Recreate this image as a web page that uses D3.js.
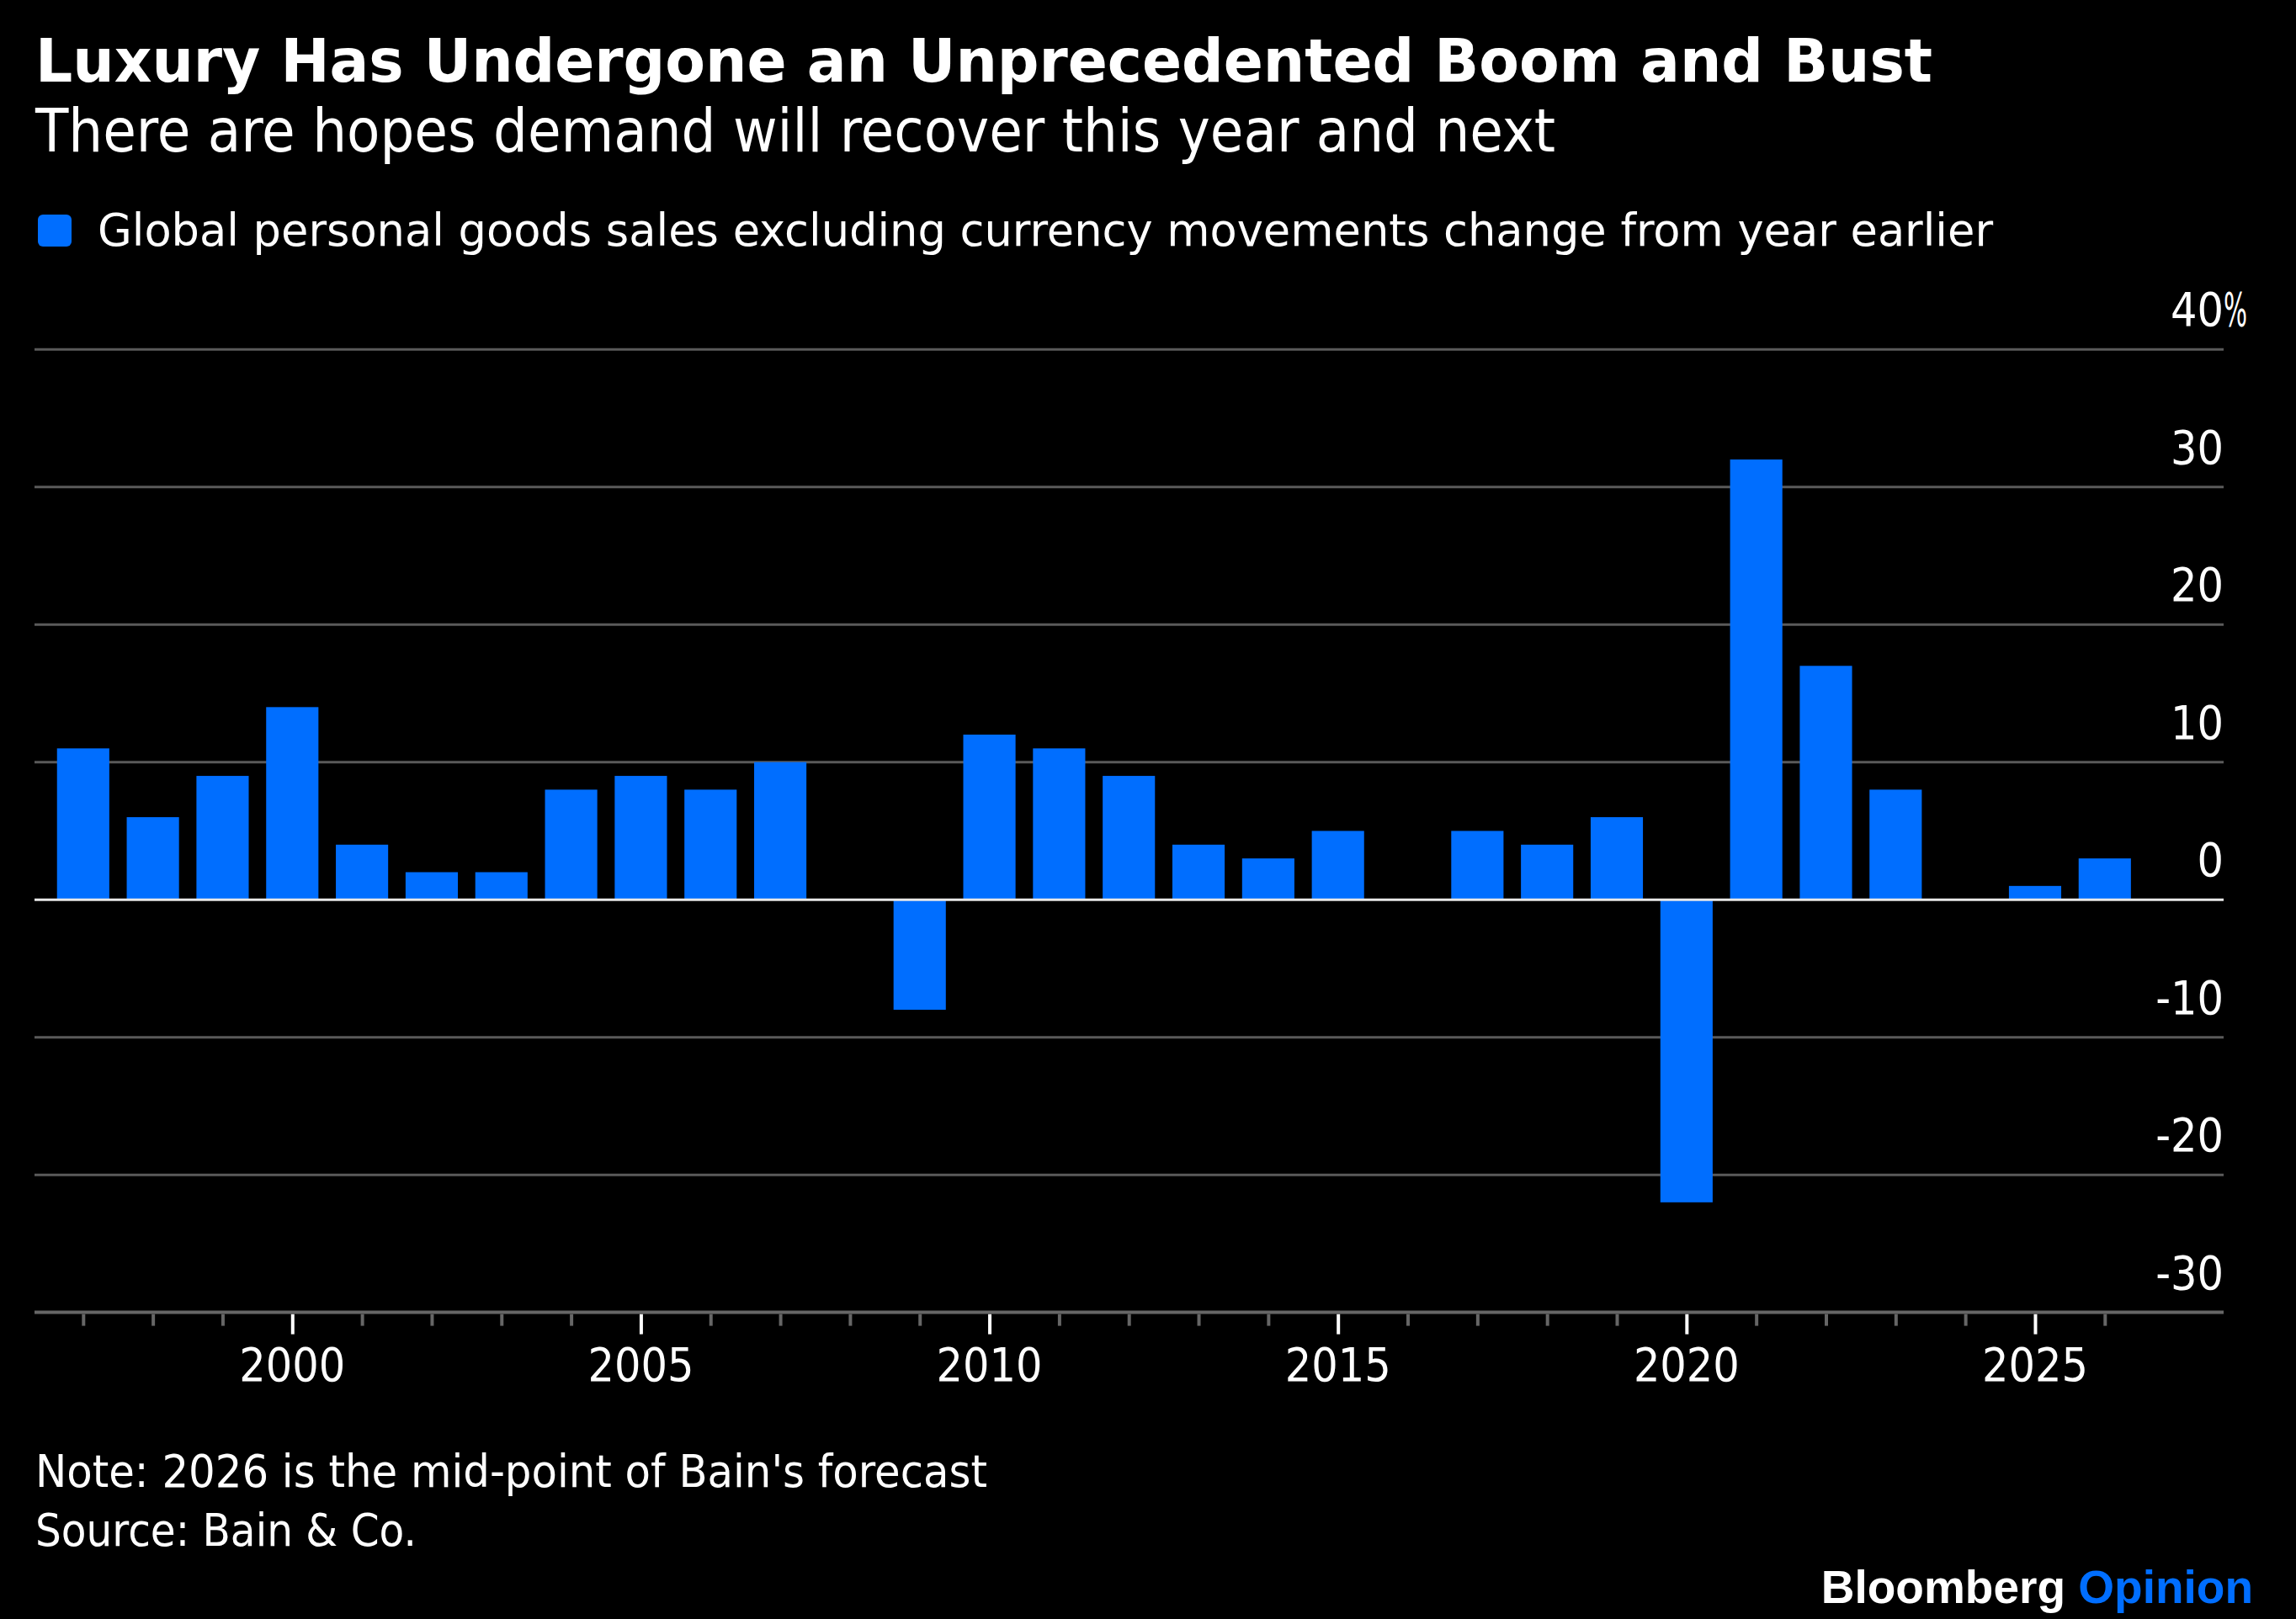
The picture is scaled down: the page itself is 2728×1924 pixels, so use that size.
<!DOCTYPE html>
<html>
<head>
<meta charset="utf-8">
<script src="https://cdn.jsdelivr.net/npm/d3@7"></script>
<style>
  html, body { margin: 0; padding: 0; background: #000; }
  svg { display: block; }
  text { font-family: 'DejaVu Sans Condensed', 'DejaVu Sans', sans-serif; font-stretch: condensed; fill: #fff; }
</style>
</head>
<body>
<div id="chart"></div>
<script>
// Global personal luxury goods sales, change from year earlier (%, constant FX)
const years = d3.range(1997, 2027);
const values = [11, 6, 9, 14, 4, 2, 2, 8, 9, 8, 10, 0, -8, 12, 11, 9, 4, 3, 5, 0, 5, 4, 6, -22, 32, 17, 8, 0, 1, 3];
const yTicks = [-30, -20, -10, 0, 10, 20, 30, 40];
const xLabelYears = [2000, 2005, 2010, 2015, 2020, 2025];

const title = 'Luxury Has Undergone an Unprecedented Boom and Bust';
const subtitle = 'There are hopes demand will recover this year and next';
const legendLabel = 'Global personal goods sales excluding currency movements change from year earlier';
const note = "Note: 2026 is the mid-point of Bain's forecast";
const source = 'Source: Bain & Co.';

const W = 2728, H = 1924;
const blue = '#006eff';

const svg = d3.select('#chart').append('svg')
    .attr('width', W)
    .attr('height', H);

svg.append('rect').attr('width', W).attr('height', H).attr('fill', '#000');

// stretch a text run to the width it has in the original
function fitWidth(sel, w) {
    sel.attr('textLength', w).attr('lengthAdjust', 'spacingAndGlyphs');
    return sel;
}

// Header
fitWidth(svg.append('text').attr('x', 42).attr('y', 97)
    .attr('font-size', 71).attr('font-weight', 'bold')
    .text(title), 2254);
fitWidth(svg.append('text').attr('x', 42).attr('y', 180)
    .attr('font-size', 72)
    .text(subtitle), 1806);

// Legend
svg.append('rect')
    .attr('x', 45).attr('y', 255).attr('width', 40).attr('height', 38)
    .attr('rx', 6).attr('fill', blue);
fitWidth(svg.append('text').attr('x', 116).attr('y', 292)
    .attr('font-size', 54)
    .text(legendLabel), 2252);

// Scales
const left = 41, right = 2642;
const x = d3.scaleLinear().domain([1997, 2026]).range([98.8, 2500.8]);
const y = d3.scaleLinear().domain([-30, 40]).range([1559.6, 415.3]);
const step = x(1998) - x(1997);
const barW = step * 0.75;

// Gridlines
const grid = svg.append('g');
grid.selectAll('line')
    .data(yTicks.filter(d => d !== 0 && d !== -30))
    .enter().append('line')
    .attr('x1', left).attr('x2', right)
    .attr('y1', d => y(d)).attr('y2', d => y(d))
    .attr('stroke', '#5a5a5a').attr('stroke-width', 3);

// Y tick labels (right side, above lines)
const yl = svg.append('g').attr('font-size', 55);
yl.selectAll('text')
    .data(yTicks)
    .enter().append('text')
    .attr('x', right)
    .attr('y', d => y(d) - 28)
    .attr('text-anchor', 'end')
    .text(d => d < 0 ? '-' + Math.abs(d) : d);
fitWidth(yl.append('text')
    .attr('x', right)
    .attr('y', y(40) - 28)
    .text('%'), 28);

// Bars
svg.append('g').selectAll('rect')
    .data(years.map((yr, i) => ({ yr, v: values[i] })).filter(d => d.v !== 0))
    .enter().append('rect')
    .attr('x', d => x(d.yr) - barW / 2)
    .attr('width', barW)
    .attr('y', d => y(Math.max(0, d.v)))
    .attr('height', d => Math.abs(y(d.v) - y(0)))
    .attr('fill', blue);

// Zero line
svg.append('line')
    .attr('x1', left).attr('x2', right)
    .attr('y1', y(0)).attr('y2', y(0))
    .attr('stroke', '#e8e8e8').attr('stroke-width', 3);

// X axis
const xAxis = svg.append('g')
    .attr('transform', `translate(0, ${y(-30)})`)
    .call(d3.axisBottom(x)
        .tickValues(years)
        .tickSize(0)
        .tickFormat(''));
xAxis.select('.domain').remove();
xAxis.append('line')
    .attr('x1', left).attr('x2', right)
    .attr('y1', 0).attr('y2', 0)
    .attr('stroke', '#666').attr('stroke-width', 4);
xAxis.selectAll('.tick line')
    .attr('y1', 2)
    .attr('y2', d => xLabelYears.includes(d) ? 26 : 16)
    .attr('stroke', d => xLabelYears.includes(d) ? '#fff' : '#666')
    .attr('stroke-width', 4);
xAxis.selectAll('.tick text').remove();
xAxis.selectAll('.year-label')
    .data(xLabelYears)
    .enter().append('text')
    .attr('class', 'year-label')
    .attr('x', d => x(d))
    .attr('y', 81)
    .attr('text-anchor', 'middle')
    .attr('font-size', 55)
    .text(d => d);

// Footer
fitWidth(svg.append('text').attr('x', 42).attr('y', 1767)
    .attr('font-size', 54)
    .text(note), 1131);
svg.append('text').attr('x', 42).attr('y', 1837)
    .attr('font-size', 54)
    .text(source);

const brand = svg.append('text')
    .attr('x', 2677).attr('y', 1905)
    .attr('text-anchor', 'end')
    .attr('font-size', 55).attr('font-weight', 'bold')
    .style('font-family', "'Liberation Sans', Arial, sans-serif")
    .style('font-stretch', 'normal');
brand.append('tspan').text('Bloomberg ');
brand.append('tspan').attr('fill', blue).style('fill', blue).text('Opinion');
</script>
</body>
</html>
